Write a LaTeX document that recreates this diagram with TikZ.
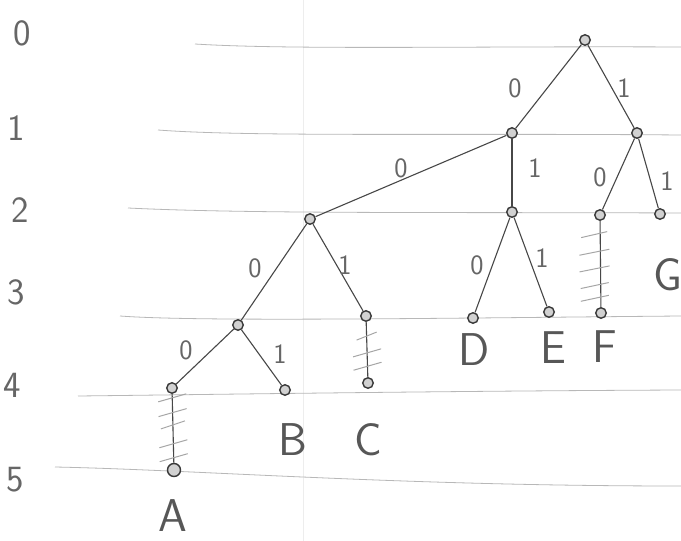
\documentclass[tikz,border=0pt]{standalone}
\usetikzlibrary{calc}
\begin{document}
\begin{tikzpicture}[x=1pt,y=-1pt,
  ink/.style={draw=black!72, line width=1.1pt},
  vtx/.style={circle, draw=black!78, fill=black!18, line width=1.4pt, minimum size=10.5pt, inner sep=0pt},
  rulel/.style={draw=black!28, line width=0.8pt},
  lvl/.style={font=\sffamily\fontsize{37}{37}\selectfont, text=black!60},
  lab/.style={font=\sffamily\fontsize{28}{28}\selectfont, text=black!60},
  leaf/.style={font=\sffamily\fontsize{46}{46}\selectfont, text=black!66},
  hatch/.style={draw=black!35, line width=1pt}]
\path[use as bounding box] (0,0) rectangle (681,541);
\fill[white] (0,0) rectangle (681,541);
% paper fold
\draw[black!7, line width=0.6pt] (303,0) -- (303,541);
% ruled lines
\draw[rulel] (195,44) .. controls (290,50) and (480,46) .. (681,47);
\draw[rulel] (158,130) .. controls (250,137) and (450,133) .. (681,135);
\draw[rulel] (128,208) .. controls (250,214) and (450,212) .. (681,213);
\draw[rulel] (120,316) .. controls (200,322) and (450,318) .. (681,316);
\draw[rulel] (78,396) .. controls (250,394) and (450,391) .. (681,390);
\draw[rulel] (55,467) .. controls (200,470) and (400,486) .. (681,486);
% level labels
\node[lvl] (l0) at (22,33) {0};
\node[lvl] (l1) at (16,128) {1};
\node[lvl] (l2) at (20,210) {2};
\node[lvl] (l3) at (16,292) {3};
\node[lvl] (l4) at (12,385) {4};
\node[lvl] (l5) at (15,480) {5};
% vertices
\node[vtx] (r) at (585,40) {};
\node[vtx] (n0) at (512,133) {};
\node[vtx] (n1) at (637,133) {};
\node[vtx] (n00) at (310,219) {};
\node[vtx] (n01) at (512,212) {};
\node[vtx] (n10) at (600,215) {};
\node[vtx] (n11) at (660,214) {};
\node[vtx] (n000) at (238,325) {};
\node[vtx] (n001) at (366,316) {};
\node[vtx] (d) at (473,318) {};
\node[vtx] (e) at (549,312) {};
\node[vtx] (f) at (601,313) {};
\node[vtx] (n0000) at (172,388) {};
\node[vtx] (b) at (285,390) {};
\node[vtx] (c) at (368,383) {};
\node[vtx, minimum size=13pt] (a) at (174,470) {};
% edges
\draw[ink] (r) -- (n0);
\draw[ink] (r) -- (n1);
\draw[ink] (n0) -- (n00);
\draw[ink] (n0) -- (n01);
\draw[ink] (n1) -- (n10);
\draw[ink] (n1) -- (n11);
\draw[ink] (n00) -- (n000);
\draw[ink] (n00) -- (n001);
\draw[ink] (n01) -- (d);
\draw[ink] (n01) -- (e);
\draw[ink] (n10) -- (f);
\draw[ink] (n000) -- (n0000);
\draw[ink] (n000) -- (b);
\draw[ink] (n001) -- (c);
\draw[ink] (n0000) -- (a);
% hatch marks
\foreach \t/\s in {0.12/14,0.3/14,0.45/12,0.68/14,0.85/14}
  \draw[hatch] ($(n0000)!\t!(a)$) +(-\s,4) -- +(\s,-4);
\foreach \t/\s in {0.2/13,0.38/15,0.55/15,0.72/14,0.85/14}
  \draw[hatch] ($(n10)!\t!(f)$) +(-\s-6,3) -- +(\s-6,-3);
\foreach \t/\s in {0.3/10,0.55/14,0.75/14}
  \draw[hatch] ($(n001)!\t!(c)$) +(-\s,4) -- +(\s,-4);
% edge labels
\node[lab] (e1) at (515,88) {0};
\node[lab] (e2) at (624,88) {1};
\node[lab] (e3) at (401,168) {0};
\node[lab] (e4) at (535,168) {1};
\node[lab] (e5) at (600,177) {0};
\node[lab] (e6) at (667,181) {1};
\node[lab] (e7) at (255,268) {0};
\node[lab] (e8) at (345,265) {1};
\node[lab] (e9) at (477,265) {0};
\node[lab] (e10) at (542,258) {1};
\node[lab] (e11) at (186,350) {0};
\node[lab] (e12) at (280,354) {1};
% leaf letters
\node[leaf] (la) at (173,516) {A};
\node[leaf] (lb) at (293,440) {B};
\node[leaf] (lc) at (368,440) {C};
\node[leaf] (ld) at (474,350) {D};
\node[leaf] (le) at (553,348) {E};
\node[leaf] (lf) at (605,347) {F};
\node[leaf] (lg) at (668,275) {G};
\end{tikzpicture}
\end{document}
